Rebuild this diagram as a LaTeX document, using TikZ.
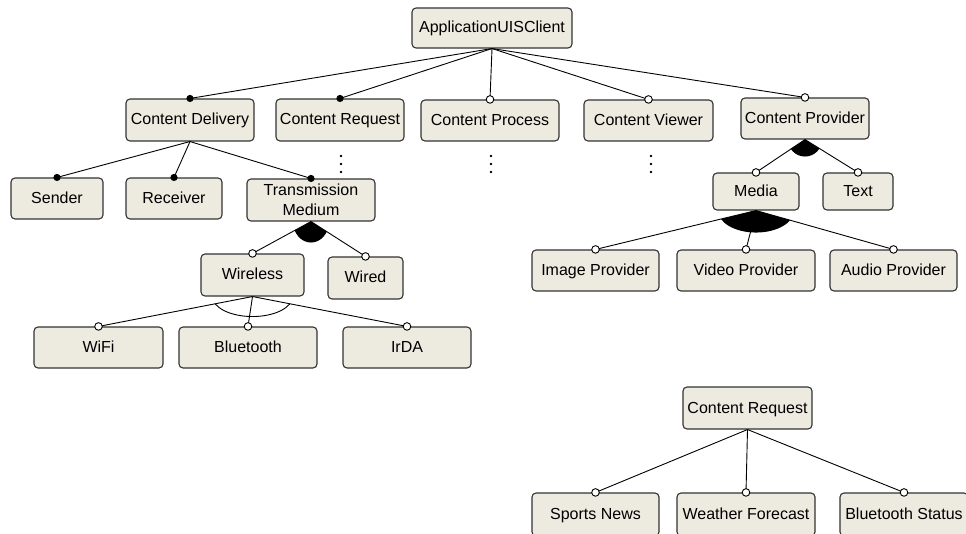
\documentclass[tikz,border=0pt]{standalone}
\usepackage{fontspec}
\setmainfont{Liberation Sans}
\usetikzlibrary{calc}
\definecolor{boxfill}{HTML}{EDEAE0}
\definecolor{boxline}{HTML}{333333}
\tikzset{
  feat/.style={draw=boxline, line width=1.1pt, fill=boxfill, rounded corners=4pt,
    inner sep=0pt, font=\fontsize{16}{19.5}\selectfont, align=center,
    text height=11.5pt, text depth=1.5pt},
  conn/.style={draw=black, line width=0.9pt},
  mandot/.style={fill=black},
  optdot/.style={draw=black, fill=white, line width=0.9pt},
}
% box: [options] name, left, top, right, bottom, text
\newcommand{\featbox}[7][]{%
  \node[feat, minimum width={(#5-#3)*1pt}, minimum height={(#6-#4)*1pt}, #1]
    (#2) at ({(#3+#5)/2}, {(#4+#6)/2}) {#7};}
\begin{document}
\begin{tikzpicture}[x=1pt, y=-1pt]
\useasboundingbox (0,0) rectangle (966,534);
\clip (0,0) rectangle (966,534);
\fill[white] (0,0) rectangle (966,534);

\featbox{app}{412}{8}{572}{48}{ApplicationUISClient}
\featbox{cd}{126}{99}{254}{141}{Content Delivery}
\featbox{cr}{276}{99}{404}{141}{Content Request}
\featbox{cp}{421}{100}{559}{141}{Content Process}
\featbox{cv}{584}{100}{713}{141}{Content Viewer}
\featbox{cpr}{741}{98}{869}{139}{Content Provider}
\featbox{snd}{11}{178}{103}{219}{Sender}
\featbox{rcv}{126}{178}{222}{219}{Receiver}
\featbox[text height={}, text depth={}]{tm}{247}{179}{375}{221}{Transmission\\Medium}
\featbox{wl}{201}{254}{304}{296}{Wireless}
\featbox{wd}{328}{257}{403}{299}{Wired}
\featbox{wifi}{34}{327}{163}{368}{WiFi}
\featbox{bt}{179}{327}{317}{368}{Bluetooth}
\featbox{irda}{343}{327}{471}{368}{IrDA}
\featbox{media}{713}{173}{799}{210}{Media}
\featbox{txt}{823}{173}{893}{210}{Text}
\featbox{img}{532}{250}{659}{291}{Image Provider}
\featbox{vid}{677}{250}{815}{291}{Video Provider}
\featbox{aud}{830}{250}{957}{291}{Audio Provider}
\featbox{crb}{683}{387}{812}{429}{Content Request}
\featbox{spn}{532}{493}{659}{536}{Sports News}
\featbox{wf}{677}{493}{815}{536}{Weather Forecast}
\featbox{bts}{840}{493}{968}{536}{Bluetooth Status}

% group sectors
\begin{scope}
  \clip (tm.south) -- ($(tm.south)!4!(wl.north)$) -- ($(tm.south)!4!(wd.north)$) -- cycle;
  \fill (tm.south) ellipse [x radius=18, y radius=21];
\end{scope}
\begin{scope}
  \clip (cpr.south) -- ($(cpr.south)!4!(media.north)$) -- ($(cpr.south)!4!(txt.north)$) -- cycle;
  \fill (cpr.south) circle (17);
\end{scope}
\begin{scope}
  \clip (media.south) -- ($(media.south)!4!(img.north)$) -- ($(media.south)!4!(aud.north)$) -- cycle;
  \fill (media.south) ellipse [x radius=38, y radius=22];
\end{scope}
\begin{scope}
  \clip (wl.south) -- ($(wl.south)!4!(wifi.north)$) -- ($(wl.south)!4!(irda.north)$) -- cycle;
  \draw[line width=0.9pt] (wl.south) ellipse [x radius=40, y radius=20];
\end{scope}

% connectors
\foreach \c in {cd,cr,cp,cv,cpr} \draw[conn] (app.south) -- (\c.north);
\foreach \c in {snd,rcv,tm} \draw[conn] (cd.south) -- (\c.north);
\foreach \c in {wl,wd} \draw[conn] (tm.south) -- (\c.north);
\foreach \c in {wifi,bt,irda} \draw[conn] (wl.south) -- (\c.north);
\foreach \c in {media,txt} \draw[conn] (cpr.south) -- (\c.north);
\foreach \c in {img,vid,aud} \draw[conn] (media.south) -- (\c.north);
\foreach \c in {spn,wf,bts} \draw[conn] (crb.south) -- (\c.north);

% markers
\foreach \c in {cd,cr,snd,rcv,tm} \fill[mandot] (\c.north) circle (3.6);
\foreach \c in {cp,cv,cpr,wl,wd,wifi,bt,irda,media,txt,img,vid,aud,spn,wf,bts}
  \draw[optdot] (\c.north) circle (3.8);

% ellipses (vertical dots)
\foreach \x in {341,491,651}
  \foreach \y in {156,164,172}
    \fill (\x,\y) circle (1.3);
\end{tikzpicture}
\end{document}
